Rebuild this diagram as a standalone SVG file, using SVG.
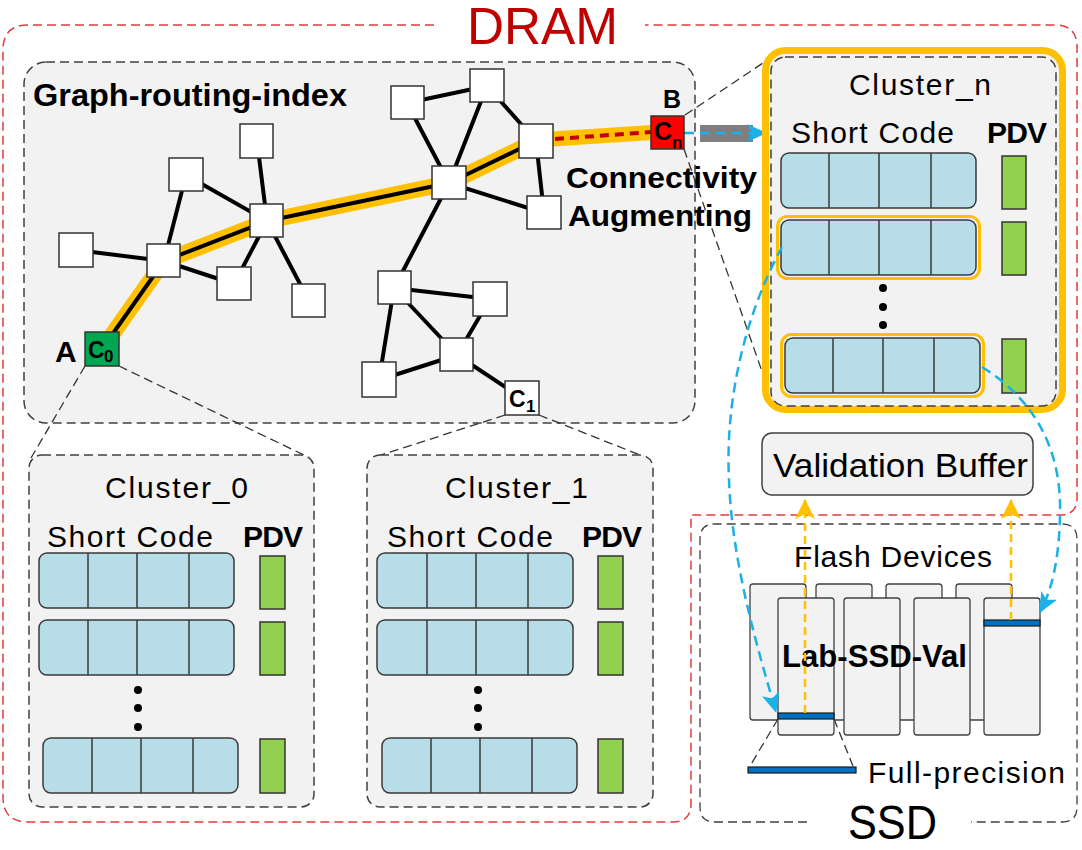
<svg xmlns="http://www.w3.org/2000/svg" width="1082" height="850" viewBox="0 0 1082 850">
<defs>
<style>
text { font-family: "Liberation Sans", Arial, sans-serif; fill:#000; }
.b { font-weight:bold; }
.box { fill:#f2f2f2; stroke:#404040; stroke-width:1.5; stroke-dasharray:9 5; }
.node { fill:#fff; stroke:#333; stroke-width:1.5; }
.edge { stroke:#000; stroke-width:4; fill:none; stroke-linecap:round; }
.row { fill:#b7dee8; stroke:#3a3a3a; stroke-width:1.5; }
.dv { stroke:#3a3a3a; stroke-width:1.5; }
.pdv { fill:#92d050; stroke:#333; stroke-width:1.5; }
.hl { fill:none; stroke:#ffc000; stroke-width:3; }
.thin { stroke:#333; stroke-width:1.3; stroke-dasharray:9 5; fill:none; }
.blue { stroke:#1ab0e8; stroke-width:2.5; stroke-dasharray:10 6; fill:none; }
.orng { stroke:#ffc000; stroke-width:2.5; stroke-dasharray:8 5; fill:none; }
.flash { fill:#f2f2f2; stroke:#404040; stroke-width:1.3; }
.bar { fill:#0070c0; stroke:#1a1a1a; stroke-width:1.2; }
.red { fill:none; stroke:#e03c3c; stroke-width:1.5; stroke-dasharray:9 5; }
.t30 { font-size:30px; }
</style>
<marker id="ab" viewBox="0 0 20 18" refX="19" refY="9" markerWidth="20" markerHeight="18" markerUnits="userSpaceOnUse" orient="auto"><path d="M0,0 L20,9 L0,18 L5,9 z" fill="#1ab0e8"/></marker>
<marker id="ao" viewBox="0 0 20 20" refX="19" refY="10" markerWidth="20" markerHeight="20" markerUnits="userSpaceOnUse" orient="auto"><path d="M0,0 L20,10 L0,20 L5,10 z" fill="#ffc000"/></marker>
</defs>
<rect width="1082" height="850" fill="#fff"/>

<!-- DRAM boundary -->
<g id="dram">
<path class="red" d="M434 25 H28 Q3 25 3 50 V797 Q3 822 28 822 H673 Q691 822 691 804 V515 H1060 Q1077 515 1077 498 V47 Q1077 25 1055 25 H645"/>
<text x="467" y="44" font-size="51" style="fill:#c00000" textLength="151" lengthAdjust="spacingAndGlyphs">DRAM</text>
</g>

<!-- Graph routing index box -->
<g id="graph-box">
<rect class="box" x="24" y="62" width="671" height="361" rx="22"/>
<text class="b" x="33" y="106" font-size="31" textLength="314" lengthAdjust="spacingAndGlyphs">Graph-routing-index</text>
</g>

<!-- Connectors -->
<g id="connectors">
<polyline points="102,349 164,261 267,221 449,183 536,141" fill="none" stroke="#ffc000" stroke-width="16" stroke-linejoin="round" stroke-linecap="round"/>
<line x1="536" y1="140" x2="660" y2="132" stroke="#ffc000" stroke-width="15" stroke-linecap="round"/>
<line x1="555" y1="139" x2="651" y2="132" stroke="#c00000" stroke-width="4" stroke-dasharray="9 6"/>
<line class="edge" x1="102" y1="349" x2="164" y2="261"/>
<line class="edge" x1="164" y1="261" x2="267" y2="221"/>
<line class="edge" x1="267" y1="221" x2="449" y2="183"/>
<line class="edge" x1="449" y1="183" x2="536" y2="141"/>
<line class="edge" x1="76" y1="250" x2="164" y2="261"/>
<line class="edge" x1="186" y1="175" x2="164" y2="261"/>
<line class="edge" x1="186" y1="175" x2="267" y2="221"/>
<line class="edge" x1="257" y1="141" x2="267" y2="221"/>
<line class="edge" x1="267" y1="221" x2="234" y2="284"/>
<line class="edge" x1="267" y1="221" x2="309" y2="301"/>
<line class="edge" x1="164" y1="261" x2="234" y2="284"/>
<line class="edge" x1="407" y1="103" x2="487" y2="86"/>
<line class="edge" x1="407" y1="103" x2="449" y2="183"/>
<line class="edge" x1="487" y1="86" x2="449" y2="183"/>
<line class="edge" x1="487" y1="86" x2="536" y2="141"/>
<line class="edge" x1="536" y1="141" x2="544" y2="213"/>
<line class="edge" x1="449" y1="183" x2="544" y2="213"/>
<line class="edge" x1="449" y1="183" x2="394" y2="288"/>
<line class="edge" x1="394" y1="288" x2="490" y2="299"/>
<line class="edge" x1="394" y1="288" x2="379" y2="380"/>
<line class="edge" x1="394" y1="288" x2="457" y2="355"/>
<line class="edge" x1="490" y1="299" x2="457" y2="355"/>
<line class="edge" x1="379" y1="380" x2="457" y2="355"/>
<line class="edge" x1="457" y1="355" x2="522" y2="398"/>
<!-- zoom lines -->
<line class="thin" x1="85" y1="366" x2="31" y2="458"/>
<line class="thin" x1="119" y1="366" x2="308" y2="457"/>
<line class="thin" x1="505" y1="415" x2="375" y2="457"/>
<line class="thin" x1="539" y1="415" x2="645" y2="457"/>
<line class="thin" x1="685" y1="115" x2="772" y2="57"/>
<line class="thin" x1="684" y1="149" x2="771" y2="397"/>
<!-- Cn to cluster_n -->
<rect x="700" y="125" width="53" height="17" fill="#7f7f7f"/>
<line class="blue" x1="684" y1="133" x2="766" y2="133" marker-end="url(#ab)"/>
</g>

<!-- Graph nodes -->
<g id="n-a"><rect class="node" x="240" y="124" width="33" height="34"/></g>
<g id="n-b"><rect class="node" x="169" y="158" width="34" height="33"/></g>
<g id="n-d"><rect class="node" x="59" y="233" width="34" height="34"/></g>
<g id="n-e"><rect class="node" x="147" y="244" width="33" height="33"/></g>
<g id="n-c"><rect class="node" x="250" y="204" width="33" height="33"/></g>
<g id="n-f"><rect class="node" x="217" y="267" width="34" height="33"/></g>
<g id="n-g"><rect class="node" x="292" y="284" width="33" height="33"/></g>
<g id="n-l"><rect class="node" x="391" y="86" width="33" height="33"/></g>
<g id="n-m"><rect class="node" x="470" y="69" width="34" height="33"/></g>
<g id="n-n"><rect class="node" x="519" y="124" width="34" height="34"/></g>
<g id="n-o"><rect class="node" x="432" y="166" width="34" height="33"/></g>
<g id="n-p"><rect class="node" x="527" y="196" width="34" height="33"/></g>
<g id="n-h"><rect class="node" x="378" y="271" width="33" height="33"/></g>
<g id="n-i"><rect class="node" x="473" y="282" width="34" height="34"/></g>
<g id="n-j"><rect class="node" x="440" y="338" width="33" height="33"/></g>
<g id="n-k"><rect class="node" x="362" y="362" width="34" height="35"/></g>
<g id="n-c0">
<rect x="85" y="332" width="34" height="34" fill="#00a651" stroke="#333" stroke-width="1.5"/>
<text class="b" x="88" y="358" font-size="23">C</text><text class="b" x="104" y="362" font-size="17">0</text>
<text class="b" x="55" y="362" font-size="30">A</text>
</g>
<g id="n-c1">
<rect class="node" x="505" y="381" width="34" height="34"/>
<text class="b" x="509" y="407" font-size="23">C</text><text class="b" x="526" y="412" font-size="17">1</text>
</g>
<g id="n-cn">
<rect x="651" y="116" width="33" height="33" fill="#ff0000" stroke="#333" stroke-width="1.5"/>
<text class="b" x="654" y="140" font-size="25">C</text><text class="b" x="672" y="148" font-size="17">n</text>
<text class="b" x="663" y="108" font-size="25">B</text>
</g>

<g id="label-ca">
<text class="b t30" x="566" y="188" textLength="191" lengthAdjust="spacingAndGlyphs">Connectivity</text>
<text class="b t30" x="568" y="226" textLength="184" lengthAdjust="spacingAndGlyphs">Augmenting</text>
</g>

<!-- Cluster_0 -->
<g id="cluster-0">
<rect class="box" x="29" y="455" width="285" height="352" rx="13"/>
<text class="t30" x="105" y="498" textLength="143">Cluster_0</text>
<text class="t30" x="47" y="547" textLength="166">Short Code</text>
<text class="b t30" x="243" y="547" textLength="60">PDV</text>
<rect class="row" x="39" y="553" width="195" height="55" rx="8"/>
<line class="dv" x1="88" y1="553" x2="88" y2="608"/><line class="dv" x1="137" y1="553" x2="137" y2="608"/><line class="dv" x1="189" y1="553" x2="189" y2="608"/>
<rect class="row" x="39" y="620" width="195" height="55" rx="8"/>
<line class="dv" x1="88" y1="620" x2="88" y2="675"/><line class="dv" x1="137" y1="620" x2="137" y2="675"/><line class="dv" x1="189" y1="620" x2="189" y2="675"/>
<circle cx="138" cy="690" r="4"/><circle cx="138" cy="708" r="4"/><circle cx="138" cy="727" r="4"/>
<rect class="row" x="43" y="738" width="195" height="55" rx="8"/>
<line class="dv" x1="92" y1="738" x2="92" y2="793"/><line class="dv" x1="141" y1="738" x2="141" y2="793"/><line class="dv" x1="193" y1="738" x2="193" y2="793"/>
<rect class="pdv" x="260" y="556" width="25" height="53"/>
<rect class="pdv" x="260" y="622" width="25" height="53"/>
<rect class="pdv" x="260" y="739" width="25" height="54"/>
</g>

<!-- Cluster_1 -->
<g id="cluster-1" transform="translate(338,0)">
<rect class="box" x="29" y="455" width="286" height="352" rx="13"/>
<text class="t30" x="107" y="498" textLength="143">Cluster_1</text>
<text class="t30" x="49" y="547" textLength="166">Short Code</text>
<text class="b t30" x="244" y="547" textLength="60">PDV</text>
<rect class="row" x="39" y="553" width="196" height="55" rx="8"/>
<line class="dv" x1="89" y1="553" x2="89" y2="608"/><line class="dv" x1="138" y1="553" x2="138" y2="608"/><line class="dv" x1="190" y1="553" x2="190" y2="608"/>
<rect class="row" x="39" y="620" width="196" height="55" rx="8"/>
<line class="dv" x1="89" y1="620" x2="89" y2="675"/><line class="dv" x1="138" y1="620" x2="138" y2="675"/><line class="dv" x1="190" y1="620" x2="190" y2="675"/>
<circle cx="140" cy="690" r="4"/><circle cx="140" cy="708" r="4"/><circle cx="140" cy="727" r="4"/>
<rect class="row" x="44" y="738" width="195" height="55" rx="8"/>
<line class="dv" x1="93" y1="738" x2="93" y2="793"/><line class="dv" x1="142" y1="738" x2="142" y2="793"/><line class="dv" x1="194" y1="738" x2="194" y2="793"/>
<rect class="pdv" x="260" y="556" width="25" height="53"/>
<rect class="pdv" x="260" y="622" width="25" height="53"/>
<rect class="pdv" x="260" y="739" width="25" height="54"/>
</g>

<!-- Cluster_n -->
<g id="cluster-n">
<rect x="765.5" y="50.5" width="297" height="359" rx="20" fill="#f2f2f2" stroke="#ffc000" stroke-width="7"/>
<g transform="translate(742,-400)">
<rect class="box" x="29" y="457" width="285" height="349" rx="14" style="fill:none"/>
<text class="t30" x="107" y="495" textLength="142">Cluster_n</text>
<text class="t30" x="49" y="543" textLength="163">Short Code</text>
<text class="b t30" x="245" y="543" textLength="60">PDV</text>
<rect class="row" x="39" y="553" width="195" height="55" rx="8"/>
<line class="dv" x1="87" y1="553" x2="87" y2="608"/><line class="dv" x1="137" y1="553" x2="137" y2="608"/><line class="dv" x1="189" y1="553" x2="189" y2="608"/>
<rect class="hl" x="35.5" y="616.5" width="202" height="62" rx="10"/>
<rect class="row" x="39" y="620" width="195" height="55" rx="8"/>
<line class="dv" x1="87" y1="620" x2="87" y2="675"/><line class="dv" x1="137" y1="620" x2="137" y2="675"/><line class="dv" x1="189" y1="620" x2="189" y2="675"/>
<circle cx="141" cy="688" r="4"/><circle cx="141" cy="707" r="4"/><circle cx="141" cy="725" r="4"/>
<rect class="hl" x="39.5" y="734.5" width="202" height="62" rx="10"/>
<rect class="row" x="43" y="738" width="195" height="55" rx="8"/>
<line class="dv" x1="91" y1="738" x2="91" y2="793"/><line class="dv" x1="141" y1="738" x2="141" y2="793"/><line class="dv" x1="192" y1="738" x2="192" y2="793"/>
<rect class="pdv" x="260" y="556" width="24" height="53"/>
<rect class="pdv" x="260" y="622" width="24" height="53"/>
<rect class="pdv" x="260" y="739" width="24" height="54"/>
</g>
</g>

<!-- Validation buffer -->
<g id="validation-buffer">
<rect x="762" y="433" width="271" height="62" rx="10" fill="#f2f2f2" stroke="#404040" stroke-width="1.5"/>
<text x="773" y="477" font-size="33" textLength="255" lengthAdjust="spacingAndGlyphs">Validation Buffer</text>
</g>

<!-- SSD -->
<g id="ssd">
<path class="thin" style="stroke:#404040" d="M807 822 H715 Q700 822 700 807 V539 Q700 524 715 524 H1062 Q1077 524 1077 539 V807 Q1077 822 1062 822 H971"/>
<text x="848" y="839" font-size="48" textLength="89" lengthAdjust="spacingAndGlyphs">SSD</text>
<text class="t30" x="794" y="567" textLength="198">Flash Devices</text>
</g>

<g id="flash-devices">
<rect class="flash" x="750" y="584" width="56" height="136" rx="3"/>
<rect class="flash" x="816" y="584" width="56" height="136" rx="3"/>
<rect class="flash" x="886" y="584" width="56" height="136" rx="3"/>
<rect class="flash" x="956" y="584" width="56" height="136" rx="3"/>
<rect class="flash" x="778" y="598" width="56" height="137" rx="3"/>
<rect class="flash" x="844" y="598" width="56" height="137" rx="3"/>
<rect class="flash" x="914" y="598" width="56" height="137" rx="3"/>
<rect class="flash" x="984" y="598" width="56" height="137" rx="3"/>
<rect class="bar" x="778" y="713" width="56" height="6"/>
<rect class="bar" x="984" y="620" width="56" height="6"/>
<text class="b" x="782" y="667" font-size="32" textLength="185" lengthAdjust="spacingAndGlyphs">Lab-SSD-Val</text>
</g>

<g id="full-precision">
<line class="thin" x1="778" y1="719" x2="750" y2="766"/>
<line class="thin" x1="834" y1="719" x2="853" y2="766"/>
<rect class="bar" x="748" y="767" width="108" height="6"/>
<text class="t30" x="868" y="783" textLength="197">Full-precision</text>
</g>

<!-- data-flow arrows -->
<g id="flow-arrows">
<line class="orng" x1="805" y1="713" x2="805" y2="500" marker-end="url(#ao)"/>
<line class="orng" x1="1011" y1="620" x2="1011" y2="500" marker-end="url(#ao)"/>
<path class="blue" d="M782 247 C745 315, 725 400, 729 480 C732 560, 755 640, 776 712" marker-end="url(#ab)"/>
<path class="blue" d="M982 367 C1035 400, 1062 450, 1060 515 C1059 560, 1052 590, 1040 612" marker-end="url(#ab)"/>
</g>
</svg>
